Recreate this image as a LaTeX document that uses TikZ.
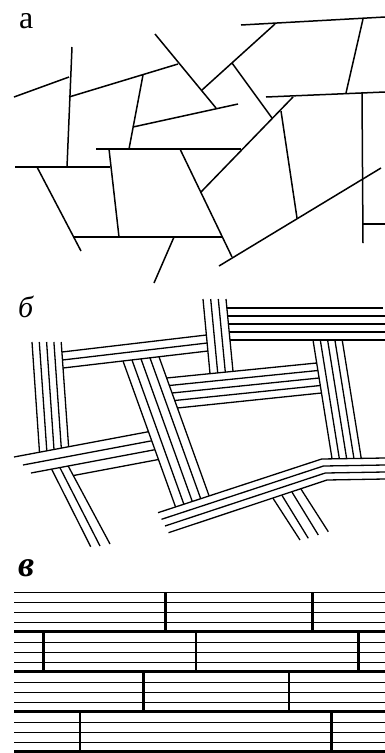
\documentclass[tikz,border=0pt]{standalone}
\usepackage{fontspec}
\setmainfont{Liberation Serif}
\begin{document}
\begin{tikzpicture}[x=1pt,y=-1pt,
  crack/.style={line width=1.5pt},
  zone/.style={line width=1.3pt},
  layer/.style={line width=1.1pt},
  seam/.style={line width=2.7pt},
  panel/.style={inner sep=0pt,anchor=base west}]
\useasboundingbox (0,0) rectangle (385,753);
% ---------- labels
\node[panel,font=\fontsize{32}{32}\selectfont] (la) at (19,28.3) {а};
\node[panel,font=\fontsize{30}{30}\selectfont\itshape] (lb) at (18,317) {б};
\node[panel,font=\fontsize{36}{36}\selectfont\bfseries\itshape] (lc) at (18,576) {в};
% ---------- panel a
\draw[crack] (14,97) -- (69,77);
\draw[crack] (72,47) -- (67,167);
\draw[crack] (69,97) -- (178,64);
\draw[crack] (155,34) -- (216,108);
\draw[crack] (143,75) -- (129,149);
\draw[crack] (133,127) -- (238,104);
\draw[crack] (96,149) -- (241,149);
\draw[crack] (15,167) -- (110,167);
\draw[crack] (109,149) -- (119,237);
\draw[crack] (37,167) -- (81,251);
\draw[crack] (74,237) -- (222,237);
\draw[crack] (180,149) -- (232,257);
\draw[crack] (174,237) -- (154,283);
\draw[crack] (219,266) -- (381,168);
\draw[crack] (201,192) -- (293,97);
\draw[crack] (281,111) -- (297,218);
\draw[crack] (362,92) -- (363,243);
\draw[crack] (363,224) -- (385,224);
\draw[crack] (241,25) -- (385,17);
\draw[crack] (275,24) -- (202,90);
\draw[crack] (232,63) -- (272,118);
\draw[crack] (363,19) -- (346,93);
\draw[crack] (266,97) -- (385,92);
% ---------- panel b
% V1
\draw[zone] (32,342) -- (39.5,452.3);
\draw[zone] (39.3,342) -- (46.8,450.8);
\draw[zone] (46.6,342) -- (54,449.5);
\draw[zone] (53.9,342) -- (61.3,448.1);
\draw[zone] (61.2,342) -- (68.6,446.7);
% H1
\draw[zone] (62,352) -- (206.5,335);
\draw[zone] (62.5,360) -- (207.2,343);
\draw[zone] (63,368) -- (208,351);
% V2
\draw[zone] (203,299) -- (210,373.6);
\draw[zone] (210.7,299) -- (217.7,372.8);
\draw[zone] (218.3,299) -- (225.3,372);
\draw[zone] (226,299) -- (233,371.3);
% H2
\draw[zone] (227,308) -- (383,308);
\draw[zone] (227.7,316) -- (385,316);
\draw[zone] (228.5,324) -- (385,324);
\draw[zone] (229.2,332) -- (385,332);
\draw[zone] (230,340) -- (385,340);
% V3
\draw[zone] (313,340) -- (332,458.5);
\draw[zone] (320.3,340) -- (339.3,458.4);
\draw[zone] (327.6,340) -- (346.6,458.3);
\draw[zone] (334.9,340) -- (353.9,458.2);
\draw[zone] (342.2,340) -- (361.2,458.1);
% D1
\draw[zone] (123,361) -- (175.6,507.1);
\draw[zone] (132,360) -- (183.9,504.3);
\draw[zone] (141,358.9) -- (192.3,501.5);
\draw[zone] (150,357.9) -- (200.7,498.7);
\draw[zone] (159,356.8) -- (209.1,495.9);
% H3
\draw[zone] (166.6,378) -- (316.7,363);
\draw[zone] (169.3,385.5) -- (317.9,370.5);
\draw[zone] (172,393) -- (319.1,378);
\draw[zone] (174.7,400.5) -- (320.3,385.5);
\draw[zone] (177.4,408) -- (321.5,393);
% H5
\draw[zone] (14,457) -- (148.5,431.7);
\draw[zone] (23,465) -- (151.7,440.8);
\draw[zone] (31,473) -- (154.9,449.7);
\draw[zone] (73,475.6) -- (158.5,459.5);
% D2
\draw[zone] (51.7,469.3) -- (90.7,546.7);
\draw[zone] (60,467.8) -- (100,546);
\draw[zone] (68.3,466.2) -- (110,544);
% H4
\draw[zone] (158,512.7) -- (321.7,459) -- (385,458);
\draw[zone] (161.5,519.3) -- (323.5,466) -- (385,465);
\draw[zone] (165,526) -- (325.3,473) -- (385,472);
\draw[zone] (168.5,532.7) -- (327,480) -- (385,479);
% D3
\draw[zone] (273,498.3) -- (300,540);
\draw[zone] (282,495.4) -- (308.3,538.3);
\draw[zone] (292,492.1) -- (318.3,535);
\draw[zone] (301,489.1) -- (328.3,531.7);
% ---------- panel c
\foreach \y in {592.7,602.7,612.7,622.7,642.7,652.7,662.7,682.7,692.7,702.7,722.7,732.7,742.7}
  \draw[layer] (14,\y) -- (385,\y);
\foreach \y in {631.7,671.7,711.7,751.7}
  \draw[seam] (14,\y) -- (385,\y);
\foreach \x in {165.7,312.7} \draw[seam] (\x,592.7) -- (\x,631.7);
\foreach \x in {43.3,196,358.3} \draw[seam] (\x,631.7) -- (\x,671.7);
\foreach \x in {143.3,289} \draw[seam] (\x,671.7) -- (\x,711.7);
\foreach \x in {80,331.7} \draw[seam] (\x,711.7) -- (\x,751.7);
\end{tikzpicture}
\end{document}
